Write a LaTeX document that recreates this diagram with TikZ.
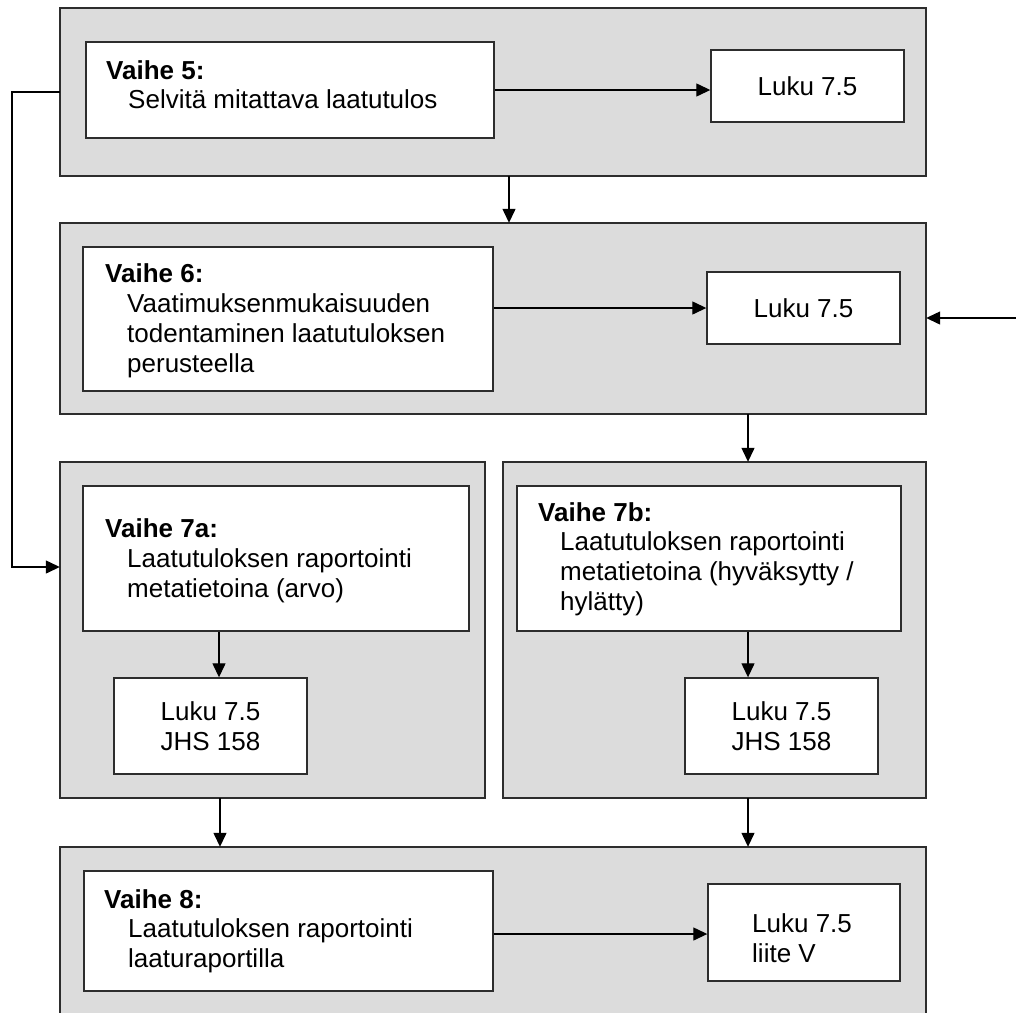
\documentclass[tikz,border=0pt]{standalone}
\usepackage{fontspec}
\setmainfont{Liberation Sans}
\usetikzlibrary{arrows.meta}
\definecolor{panelgray}{RGB}{220,220,220}
\definecolor{edge}{RGB}{45,45,45}
\tikzset{
  panel/.style={draw=edge, line width=1.6pt, fill=panelgray},
  stepbox/.style={draw=edge, line width=1.4pt, fill=white},
  lukubox/.style={draw=edge, line width=1.4pt, fill=white, align=center, font=\fontsize{26}{30}\selectfont, inner sep=0pt},
  ttl/.style={anchor=base west, inner sep=0pt, font=\fontsize{26}{30}\selectfont\bfseries},
  txt/.style={anchor=base west, inner sep=0pt, font=\fontsize{26}{30}\selectfont, align=left},
  conn/.style={draw=black, line width=1.3pt, -{Triangle[length=14pt,width=13pt]}}
}
\begin{document}
\begin{tikzpicture}[x=1pt,y=-1pt]
\clip (0,0) rectangle (1016,1012);
\fill[white] (0,0) rectangle (1016,1012);

% panels
\path[panel] (60,8) rectangle (926,176);
\node[inner sep=0pt, minimum width=866pt, minimum height=168pt] (p5) at (493,92) {};
\path[panel] (60,223) rectangle (926,414);
\node[inner sep=0pt, minimum width=866pt, minimum height=191pt] (p6) at (493,318.5) {};
\path[panel] (60,462) rectangle (485,798);
\node[inner sep=0pt, minimum width=425pt, minimum height=336pt] (p7a) at (272.5,630) {};
\path[panel] (503,462) rectangle (926,798);
\node[inner sep=0pt, minimum width=423pt, minimum height=336pt] (p7b) at (714.5,630) {};
\path[panel] (60,847) rectangle (926,1040);
\node[inner sep=0pt, minimum width=866pt, minimum height=193pt] (p8) at (493,943.5) {};

% step boxes (text anchored at the baseline of its last line)
\node[stepbox, minimum width=408pt, minimum height=96pt] (s5) at (290,90) {};
\node[ttl] (t5) at (106,79) {Vaihe 5:};
\node[txt] (u5) at (128,108) {Selvitä mitattava laatutulos};

\node[stepbox, minimum width=410pt, minimum height=144pt] (s6) at (288,319) {};
\node[ttl] (t6) at (105,282) {Vaihe 6:};
\node[txt] (u6) at (127,372) {Vaatimuksenmukaisuuden\\todentaminen laatutuloksen\\perusteella};

\node[stepbox, minimum width=386pt, minimum height=145pt] (s7a) at (276,558.5) {};
\node[ttl] (t7a) at (105,537) {Vaihe 7a:};
\node[txt] (u7a) at (127,597) {Laatutuloksen raportointi\\metatietoina (arvo)};

\node[stepbox, minimum width=384pt, minimum height=145pt] (s7b) at (709,558.5) {};
\node[ttl] (t7b) at (538,521) {Vaihe 7b:};
\node[txt] (u7b) at (560,610) {Laatutuloksen raportointi\\metatietoina (hyväksytty /\\hylätty)};

\node[stepbox, minimum width=409pt, minimum height=120pt] (s8) at (288.5,931) {};
\node[ttl] (t8) at (104,908) {Vaihe 8:};
\node[txt] (u8) at (128,967) {Laatutuloksen raportointi\\laaturaportilla};

% Luku boxes
\node[lukubox, minimum width=193pt, minimum height=72pt] (l5) at (807.5,86) {Luku 7.5};
\node[lukubox, minimum width=193pt, minimum height=72pt] (l6) at (803.5,308) {Luku 7.5};
\node[lukubox, minimum width=193pt, minimum height=96pt] (l7a) at (210.5,726) {Luku 7.5\\JHS 158};
\node[lukubox, minimum width=193pt, minimum height=96pt] (l7b) at (781.5,726) {Luku 7.5\\JHS 158};
\node[draw=edge, line width=1.4pt, fill=white, minimum width=192pt, minimum height=97pt, inner sep=0pt] (l8) at (804,932.5) {};
\node[txt] (l8t) at (752,962) {Luku 7.5\\liite V};

% connectors within panels
\draw[conn] (s5.east |- 0,90) -- (l5.west |- 0,90);
\draw[conn] (s6.east |- 0,308) -- (l6.west |- 0,308);
\draw[conn] (s7a.south -| 219,0) -- (l7a.north -| 219,0);
\draw[conn] (s7b.south -| 748,0) -- (l7b.north -| 748,0);
\draw[conn] (s8.east |- 0,934) -- (l8.west |- 0,934);

% connectors between panels
\draw[conn] (p5.south -| 509,0) -- (p6.north -| 509,0);
\draw[conn] (p6.south -| 748,0) -- (p7b.north -| 748,0);
\draw[conn] (p7a.south -| 220,0) -- (p8.north -| 220,0);
\draw[conn] (p7b.south -| 748,0) -- (p8.north -| 748,0);

\coordinate (rin) at (1016,318);
\draw[conn] (rin) -- (p6.east |- rin);

\coordinate (lc1) at (12,92);
\coordinate (lc2) at (12,567);
\draw[conn] (p5.west) -- (lc1) -- (lc2) -- (p7a.west |- lc2);
\end{tikzpicture}
\end{document}
